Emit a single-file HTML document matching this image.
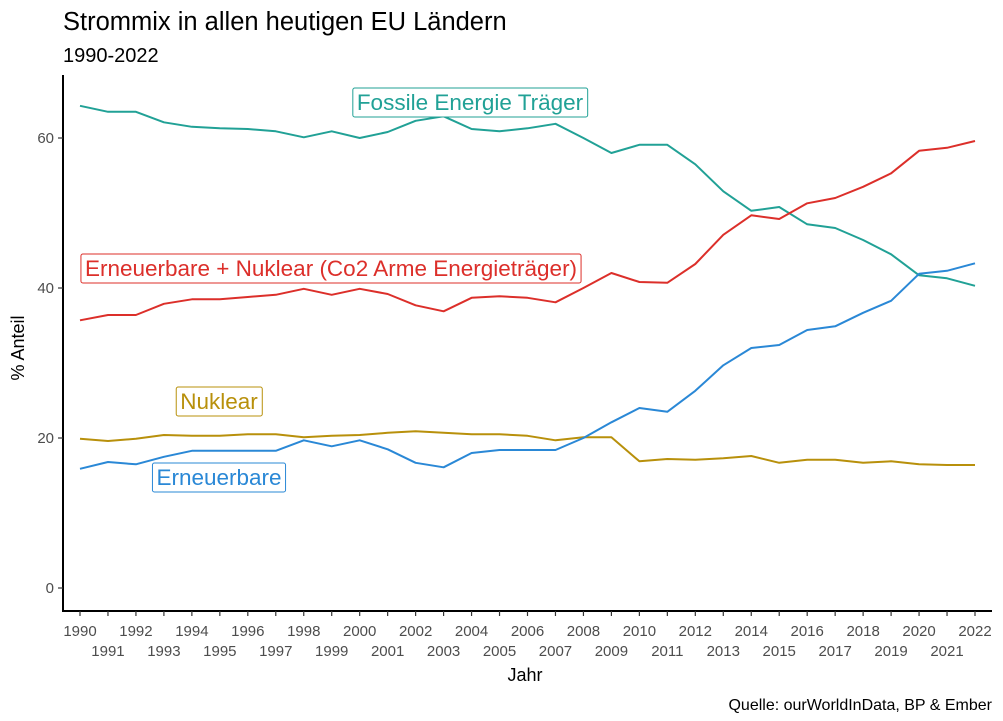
<!DOCTYPE html>
<html><head><meta charset="utf-8"><style>
body{margin:0;background:#fff;}
svg{display:block;font-family:"Liberation Sans",Arial,sans-serif;}
</style></head><body>
<svg id="chart" width="1003" height="721" viewBox="0 0 1003 721">
<text x="63" y="30" font-size="25.5" fill="#000">Strommix in allen heutigen EU Ländern</text>
<text x="63" y="62" font-size="20" fill="#000">1990-2022</text>
<text x="992" y="710" font-size="16" text-anchor="end" fill="#000">Quelle: ourWorldInData, BP &amp; Ember</text>
<text x="525" y="681" font-size="18" text-anchor="middle" fill="#000">Jahr</text>
<text transform="translate(24,348) rotate(-90)" font-size="18" text-anchor="middle" fill="#000">% Anteil</text>
<g id="axes"></g>
<g id="lines"></g>
<g id="labels"></g>
</svg>
<script>
const years=[];for(let y=1990;y<=2022;y++)years.push(y);
const yTicks=[0,20,40,60];
const fossil=[64.3,63.5,63.5,62.1,61.5,61.3,61.2,60.9,60.1,60.9,60.0,60.8,62.3,62.9,61.2,60.9,61.3,61.9,60.0,58.0,59.1,59.1,56.5,52.9,50.3,50.8,48.5,48.0,46.4,44.5,41.7,41.3,40.3];
const lowCarbon=[35.7,36.4,36.4,37.9,38.5,38.5,38.8,39.1,39.9,39.1,39.9,39.2,37.7,36.9,38.7,38.9,38.7,38.1,40.0,42.0,40.8,40.7,43.2,47.1,49.7,49.2,51.3,52.0,53.5,55.3,58.3,58.7,59.6];
const nuclear=[19.9,19.6,19.9,20.4,20.3,20.3,20.5,20.5,20.1,20.3,20.4,20.7,20.9,20.7,20.5,20.5,20.3,19.7,20.1,20.1,16.9,17.2,17.1,17.3,17.6,16.7,17.1,17.1,16.7,16.9,16.5,16.4,16.4];
const renewables=[15.9,16.8,16.5,17.5,18.3,18.3,18.3,18.3,19.7,18.9,19.7,18.5,16.7,16.1,18.0,18.4,18.4,18.4,20.0,22.1,24.0,23.5,26.3,29.7,32.0,32.4,34.4,34.9,36.7,38.3,41.9,42.3,43.3];

const NS="http://www.w3.org/2000/svg";
const X=y=>80+(y-1990)*(975-80)/32;
const Y=v=>588-v*7.5;
function mk(tag,attrs,parent){const e=document.createElementNS(NS,tag);for(const k in attrs)e.setAttribute(k,attrs[k]);parent.appendChild(e);return e;}
const axes=document.getElementById('axes');
const ax1=mk('line',{x1:63,y1:75,x2:63,y2:611,stroke:'#000','stroke-width':2},axes);


const ax2=mk('line',{x1:62,y1:611,x2:992,y2:611,stroke:'#000','stroke-width':2},axes);


yTicks.forEach(t=>{
  mk('line',{x1:58,y1:Y(t),x2:63,y2:Y(t),stroke:'#333','stroke-width':1.2},axes);
  const tx=mk('text',{x:54,y:Y(t)+5,'font-size':15,'text-anchor':'end',fill:'#4d4d4d'},axes);
  tx.textContent=t;
  
  
});
years.forEach((yr,i)=>{
  mk('line',{x1:X(yr),y1:611,x2:X(yr),y2:616,stroke:'#333','stroke-width':1.2},axes);
  const tx=mk('text',{x:X(yr),y:i%2===0?636:656,'font-size':15,'text-anchor':'middle',fill:'#4d4d4d'},axes);
  tx.textContent=yr;
  
  
});
const lines=document.getElementById('lines');
function drawLine(vals,color,name){
  const p=mk('path',{d:vals.map((v,i)=>(i?'L':'M')+X(years[i]).toFixed(1)+','+Y(v).toFixed(1)).join(''),fill:'none',stroke:color,'stroke-width':2,'stroke-linejoin':'round'},lines);
  
  
}
drawLine(fossil,'#21a196','line-fossil');
drawLine(lowCarbon,'#dc2f2a','line-low-carbon');
drawLine(nuclear,'#b8900b','line-nuclear');
drawLine(renewables,'#2a88d6','line-renewables');
const labels=document.getElementById('labels');
function label(txt,cx,cy,color,name){
  const g=mk('g',{},labels);
  
  
  const r=mk('rect',{fill:'#fff',stroke:color,'stroke-width':1,rx:2},g);
  const t=mk('text',{x:cx,y:cy+8,'font-size':22.5,'text-anchor':'middle',fill:color},g);
  t.textContent=txt;
  const b=t.getBBox();
  r.setAttribute('x',b.x-4);r.setAttribute('y',cy-14);r.setAttribute('width',b.width+8);r.setAttribute('height',29);
}
label('Fossile Energie Träger',470,102,'#21a196','label-fossil');
label('Erneuerbare + Nuklear (Co2 Arme Energieträger)',331,268,'#dc2f2a','label-low-carbon');
label('Nuklear',219,401,'#b8900b','label-nuclear');
label('Erneuerbare',219,477,'#2a88d6','label-renewables');
</script>
</body></html>
